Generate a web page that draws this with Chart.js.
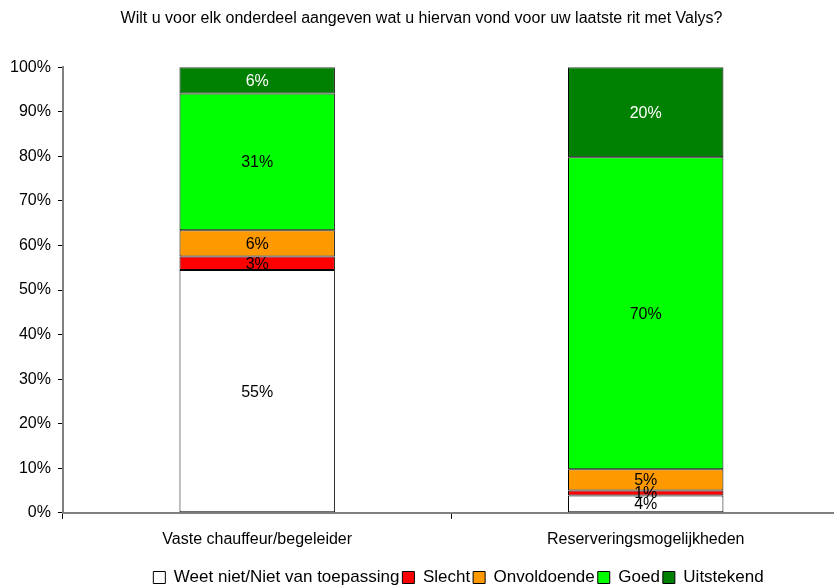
<!DOCTYPE html>
<html>
<head>
<meta charset="utf-8">
<script src="https://cdn.jsdelivr.net/npm/chart.js@4"></script>
<style>
  html, body { margin: 0; padding: 0; background: #fff; overflow: hidden; }
  #wrap { position: relative; width: 840px; height: 587px; }
</style>
</head>
<body>
<div id="wrap"><canvas id="chart"></canvas></div>
<script>
// data (share of respondents per category, %)
const categories = ['Vaste chauffeur/begeleider', 'Reserveringsmogelijkheden'];
const seriesNames = ['Weet niet/Niet van toepassing', 'Slecht', 'Onvoldoende', 'Goed', 'Uitstekend'];
const weetNiet = [54.5, 3.9];
const slecht = [3.0, 1.1];
const onvoldoende = [5.9, 4.8];
const goed = [30.7, 70.0];
const uitstekend = [5.9, 20.2];
const yTicks = [0, 10, 20, 30, 40, 50, 60, 70, 80, 90, 100];

const colors = ['#FFFFFF', '#FF0000', '#FF9900', '#00FF00', '#008000'];
const labelColors = ['#000', '#000', '#000', '#000', '#fff'];
const FONT = 'Liberation Sans, Arial, sans-serif';

const values = [weetNiet, slecht, onvoldoende, goed, uitstekend];

// draws the percentage labels in the middle of each segment
const segmentLabels = {
    id: 'segmentLabels',
    afterDatasetsDraw(chart) {
        const ctx = chart.ctx;
        ctx.save();
        ctx.font = '16px ' + FONT;
        ctx.textAlign = 'center';
        ctx.textBaseline = 'middle';
        chart.data.datasets.forEach((ds, i) => {
            chart.getDatasetMeta(i).data.forEach((bar, j) => {
                const mid = (bar.y + bar.base) / 2;
                ctx.fillStyle = labelColors[i];
                ctx.fillText(Math.round(ds.data[j]) + '%', bar.x, mid + 1);
            });
        });
        ctx.restore();
    }
};

// the legend sits a bit right of centre and lower in the original
const legendShift = {
    id: 'legendShift',
    afterLayout(chart) {
        const lg = chart.legend;
        lg.left += 37; lg.right += 37;
        lg.top += 6; lg.bottom += 6;
    }
};

new Chart(document.getElementById('chart'), {
    type: 'bar',
    data: {
        labels: categories,
        datasets: seriesNames.map((name, i) => ({
            label: name,
            data: values[i],
            backgroundColor: colors[i],
            borderColor: '#000',
            borderWidth: 1,
            borderSkipped: false,
            barPercentage: 0.4,
            categoryPercentage: 1
        }))
    },
    options: {
        responsive: true,
        maintainAspectRatio: false,
        animation: false,
        layout: { padding: { top: 9, left: 3, right: 0, bottom: -3 } },
        plugins: {
            title: {
                display: true,
                text: 'Wilt u voor elk onderdeel aangeven wat u hiervan vond voor uw laatste rit met Valys?',
                color: '#000',
                font: { family: FONT, size: 16, weight: 'normal' },
                padding: { top: 0, bottom: 39 }
            },
            legend: {
                position: 'bottom',
                labels: {
                    color: '#000',
                    font: { family: FONT, size: 17 },
                    boxWidth: 12,
                    boxHeight: 12,
                    padding: 3,
                    generateLabels(chart) {
                        return chart.data.datasets.map((ds, i) => ({
                            text: ds.label,
                            fillStyle: colors[i],
                            strokeStyle: '#000',
                            lineWidth: 1,
                            datasetIndex: i
                        }));
                    }
                }
            },
            tooltip: { enabled: false }
        },
        scales: {
            x: {
                stacked: true,
                grid: {
                    display: true,
                    drawOnChartArea: false,
                    offset: true,
                    tickLength: 6,
                    color: '#000'
                },
                border: { color: '#808080', width: 2 },
                ticks: { color: '#000', font: { family: FONT, size: 16 }, padding: 11 }
            },
            y: {
                stacked: true,
                min: 0,
                max: 100,
                afterBuildTicks(axis) { axis.ticks = yTicks.map(v => ({ value: v })); },
                grid: { drawOnChartArea: false, tickLength: 5, color: '#000' },
                border: { color: '#808080', width: 2 },
                ticks: {
                    color: '#000',
                    font: { family: FONT, size: 16 },
                    padding: 7,
                    callback: v => v + '%'
                }
            }
        }
    },
    plugins: [segmentLabels, legendShift]
});
</script>
</body>
</html>
